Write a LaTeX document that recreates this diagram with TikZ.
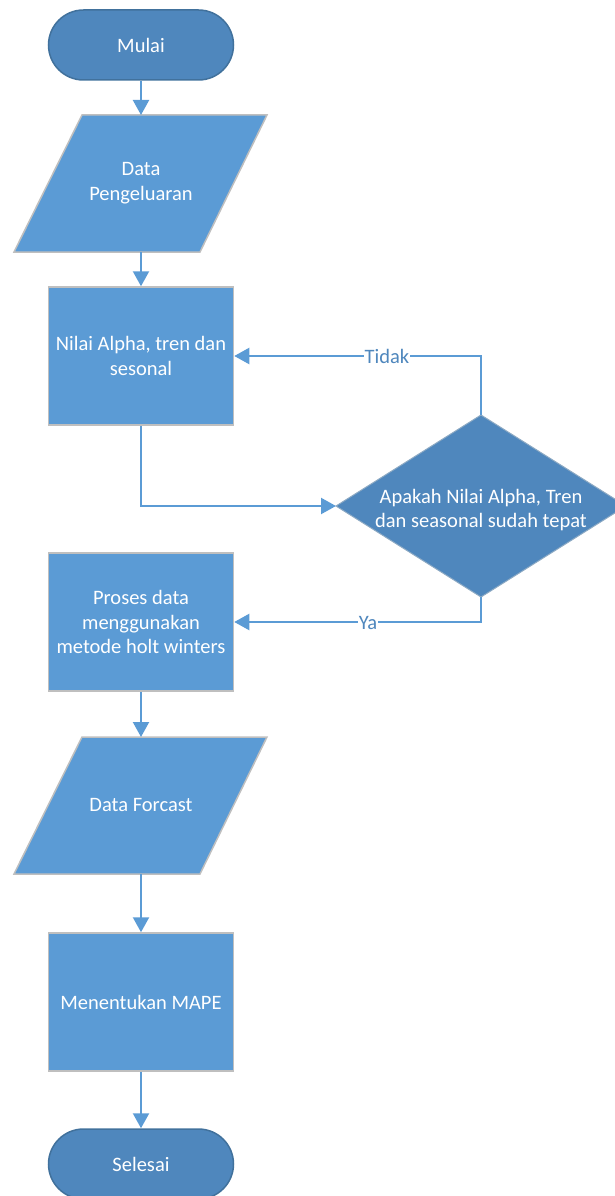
\documentclass[tikz,border=0pt]{standalone}
\usepackage{fontspec}
\setmainfont{Carlito}
\usetikzlibrary{arrows.meta,shapes.misc}
\definecolor{boxblue}{HTML}{5B9BD5}
\definecolor{termblue}{HTML}{4F87BD}
\definecolor{termedge}{HTML}{41719C}
\definecolor{boxedge}{HTML}{BFBFBF}
\definecolor{lineblue}{HTML}{5B9BD5}
\definecolor{tagblue}{HTML}{4F87BD}
\begin{document}
\begin{tikzpicture}[x=1pt,y=-1pt,
  txt/.style={font=\fontsize{20.5}{24.5}\selectfont},
  term/.style={txt, rounded rectangle, draw=termedge, line width=1.5pt, fill=termblue,
    minimum width=185pt, minimum height=70pt, text=white, inner sep=0pt},
  proc/.style={txt, rectangle, draw=boxedge, line width=1.5pt, fill=boxblue,
    minimum width=185pt, minimum height=138pt, text=white, align=center, inner sep=0pt},
  shapefill/.style={draw=boxedge, line width=1.5pt, fill=boxblue},
  decfill/.style={draw=termedge!60, line width=1pt, fill=termblue},
  lbl/.style={txt, text=white, align=center, inner sep=0pt},
  flow/.style={draw=lineblue, line width=2.2pt, -{Triangle[width=16pt,length=15pt]}},
  tag/.style={txt, fill=white, text=tagblue, inner sep=1pt}
]
\useasboundingbox (0,0) rectangle (615,1196);
\clip (0,0) rectangle (615,1196);

% Start
\node[term] (mulai) at (141,45) {Mulai};

% Input 1
\coordinate (d1top) at (141,115);
\coordinate (d1bot) at (141,252);
\draw[shapefill] (82,115) -- (267,115) -- (200,252) -- (14,252) -- cycle;
\node[lbl] (data) at (141,183) {Data\\Pengeluaran};

% Process 1
\node[proc] (nilai) at (141,356) {Nilai Alpha, tren dan\\sesonal};

% Decision
\coordinate (dtop) at (481,415);
\coordinate (dright) at (626,506);
\coordinate (dbot) at (481,597);
\coordinate (dleft) at (336,506);
\draw[decfill] (dtop) -- (dright) -- (dbot) -- (dleft) -- cycle;
\node[lbl] (dec) at (481,510) {Apakah Nilai Alpha, Tren\\dan seasonal sudah tepat};

% Process 2
\node[proc] (proses) at (141,622) {Proses data\\menggunakan\\metode holt winters};

% Input 2
\coordinate (d2top) at (141,737);
\coordinate (d2bot) at (141,874);
\draw[shapefill] (82,737) -- (267,737) -- (200,874) -- (14,874) -- cycle;
\node[lbl] (forcast) at (141,805) {Data Forcast};

% Process 3
\node[proc] (mape) at (141,1002) {Menentukan MAPE};

% End
\node[term] (selesai) at (141,1164) {Selesai};

% Connectors
\draw[flow] (mulai.south) -- (d1top);
\draw[flow] (d1bot) -- (nilai.north);
\draw[flow] (nilai.south) |- (dleft);
\draw[flow] (dtop) |- (nilai.east);
\node[tag] (tidak) at (387,356) {Tidak};
\draw[flow] (dbot) |- (proses.east);
\node[tag] (ya) at (368,623) {Ya};
\draw[flow] (proses.south) -- (d2top);
\draw[flow] (d2bot) -- (mape.north);
\draw[flow] (mape.south) -- (selesai.north);
\end{tikzpicture}
\end{document}
